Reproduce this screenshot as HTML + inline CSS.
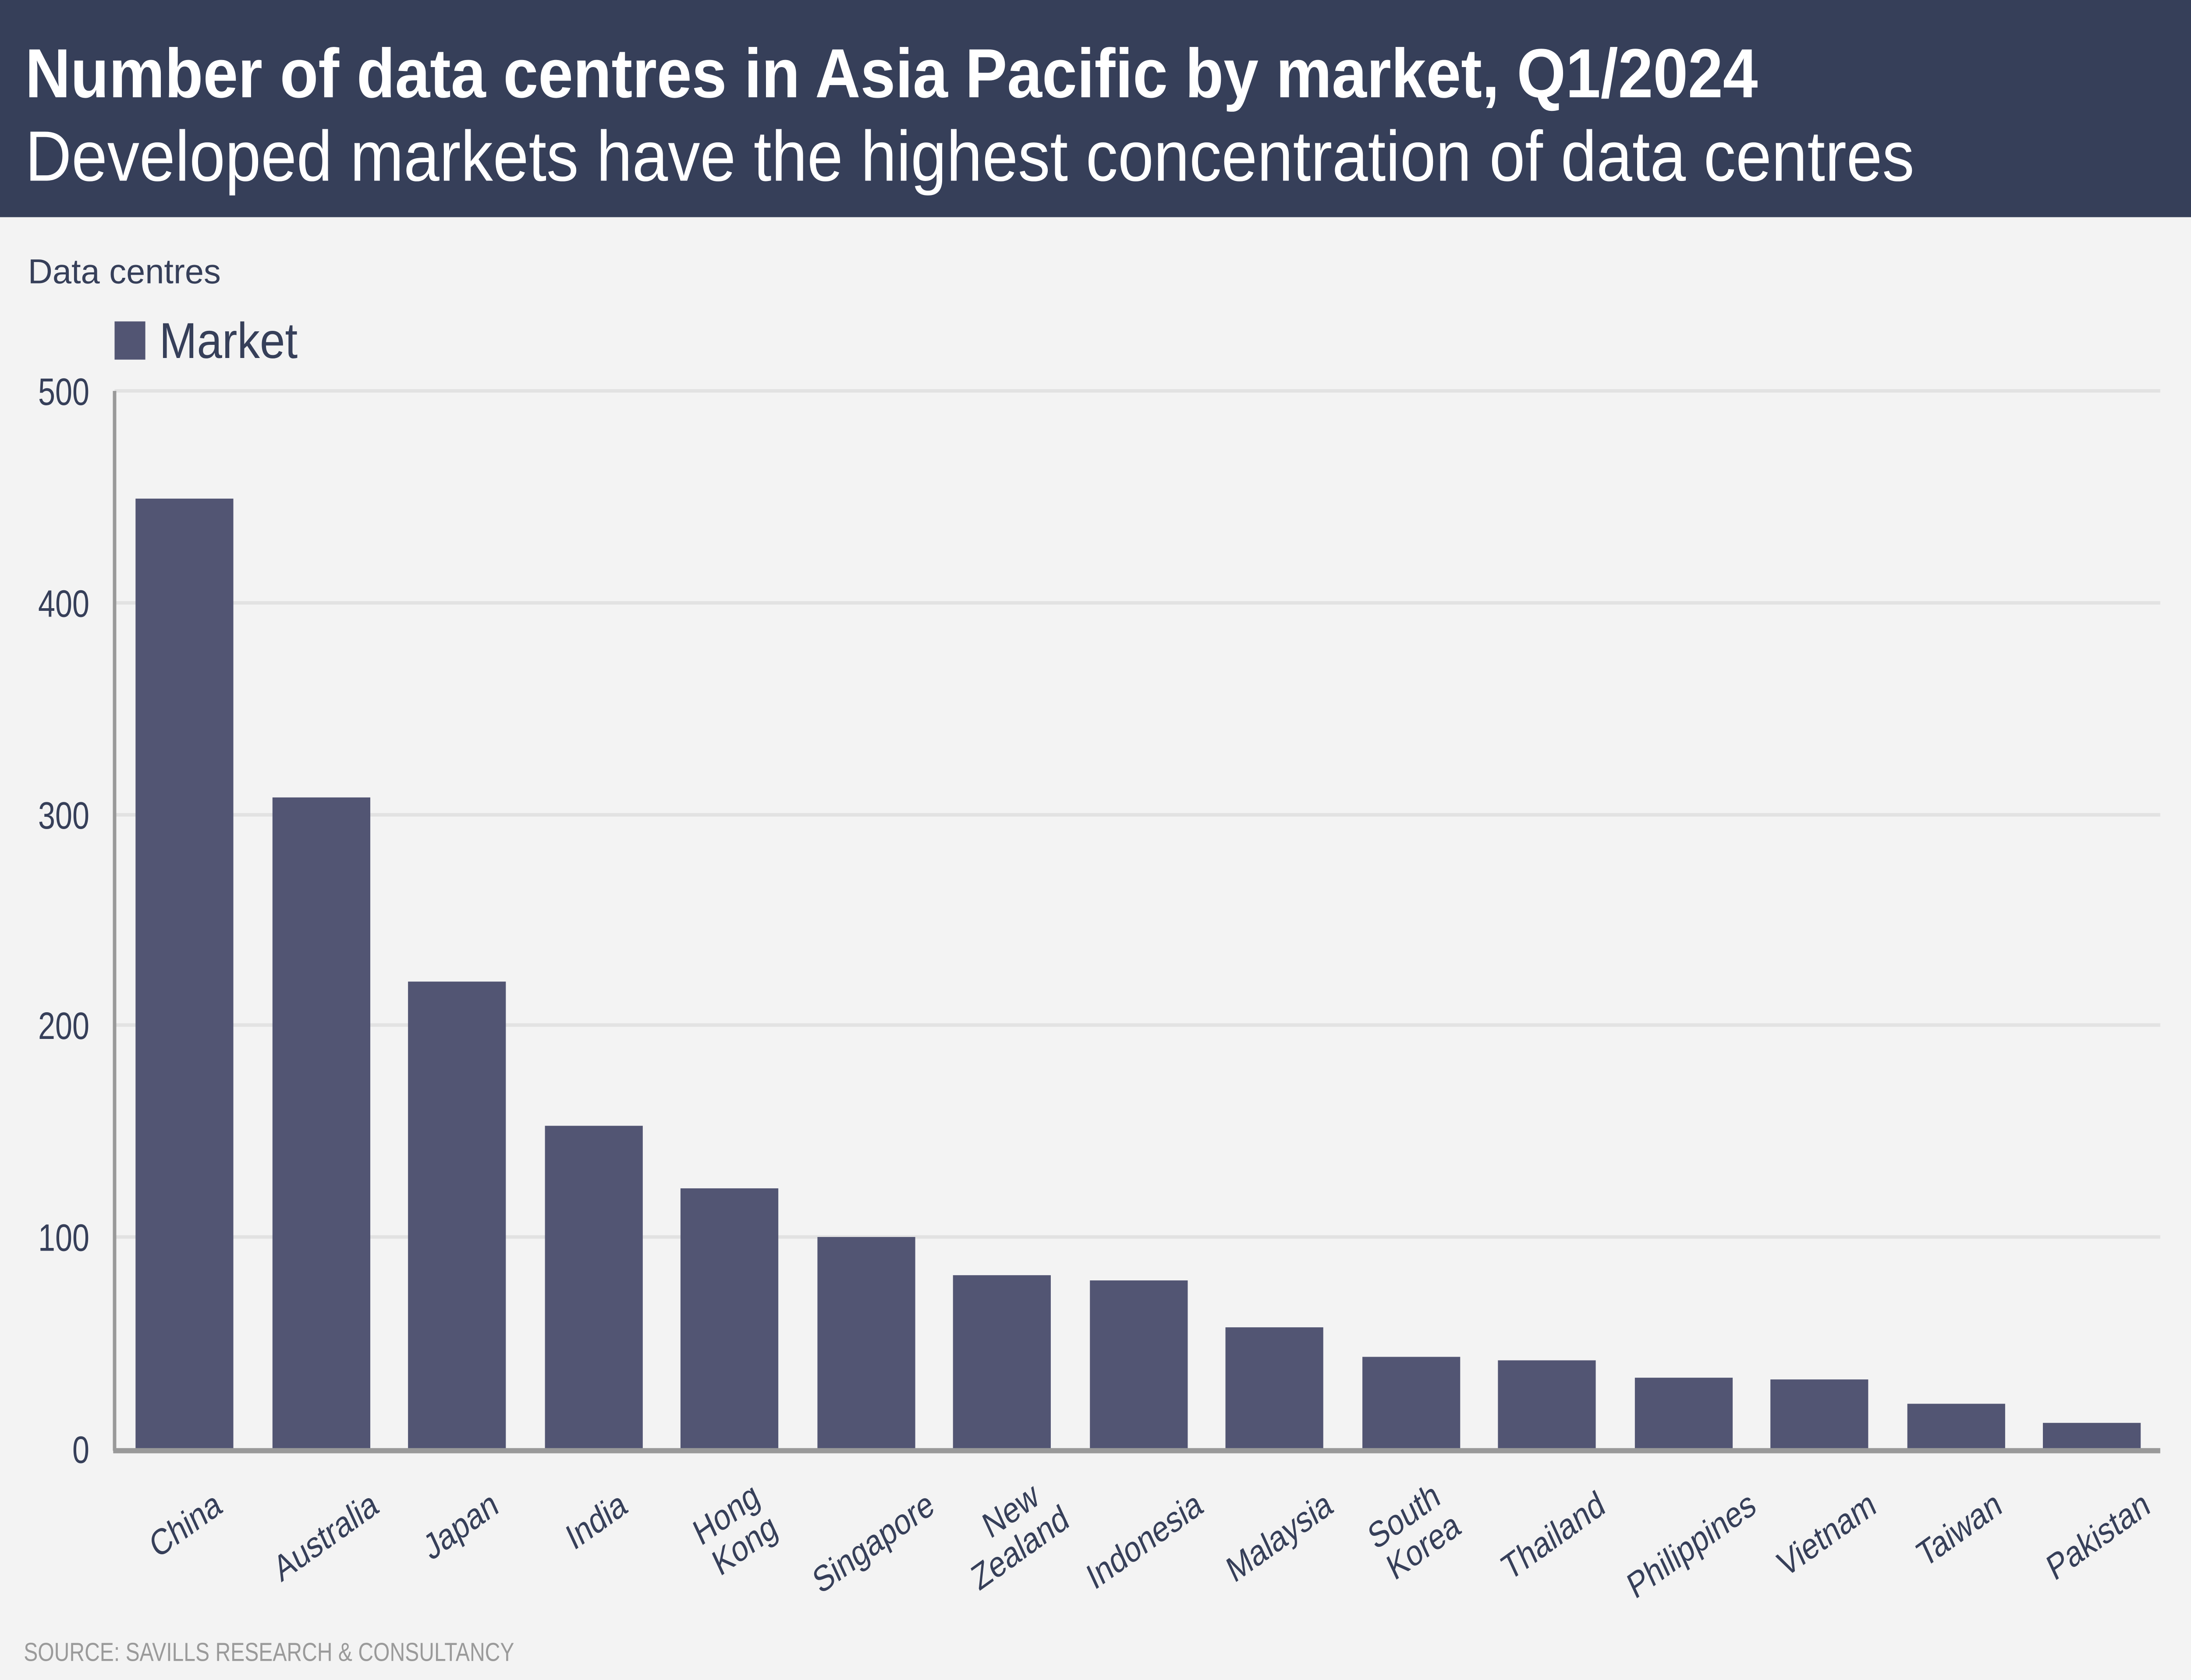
<!DOCTYPE html>
<html><head><style>html,body{margin:0;padding:0;background:#f3f3f3;width:100%;height:100%;overflow:hidden;}svg{display:block;width:100vw;height:100vh;}</style></head>
<body>
<svg viewBox="0 0 1568 967" preserveAspectRatio="none" xmlns="http://www.w3.org/2000/svg" font-family="Liberation Sans, sans-serif">
<rect width="1568" height="967" fill="#f3f3f3"/>
<rect width="1568" height="125" fill="#363f59"/>
<text x="18" y="56" font-size="40" font-weight="bold" fill="#fff" textLength="1240" lengthAdjust="spacingAndGlyphs">Number of data centres in Asia Pacific by market, Q1/2024</text>
<text x="18" y="104" font-size="41" fill="#fff" textLength="1352" lengthAdjust="spacingAndGlyphs">Developed markets have the highest concentration of data centres</text>
<text x="20" y="163" font-size="20" fill="#363f59" textLength="138" lengthAdjust="spacingAndGlyphs">Data centres</text>
<rect x="82" y="185" width="22" height="22" fill="#525573"/>
<text x="114" y="206" font-size="29" fill="#363f59" textLength="99" lengthAdjust="spacingAndGlyphs">Market</text>
<g stroke="#e2e2e2" stroke-width="2">
<line x1="82" x2="1546" y1="225" y2="225"/><line x1="82" x2="1546" y1="347" y2="347"/><line x1="82" x2="1546" y1="469" y2="469"/><line x1="82" x2="1546" y1="590" y2="590"/><line x1="82" x2="1546" y1="712" y2="712"/>
</g>
<g font-size="22" fill="#363f59" text-anchor="end">
<text x="64" y="233">500</text><text x="64" y="355">400</text><text x="64" y="477">300</text><text x="64" y="598">200</text><text x="64" y="720">100</text><text x="64" y="842">0</text>
</g>
<g fill="#525573">
<rect x="97" y="287" width="70" height="547"/>
<rect x="195" y="459" width="70" height="375"/>
<rect x="292" y="565" width="70" height="269"/>
<rect x="390" y="648" width="70" height="186"/>
<rect x="487" y="684" width="70" height="150"/>
<rect x="585" y="712" width="70" height="122"/>
<rect x="682" y="734" width="70" height="100"/>
<rect x="780" y="737" width="70" height="97"/>
<rect x="877" y="764" width="70" height="70"/>
<rect x="975" y="781" width="70" height="53"/>
<rect x="1072" y="783" width="70" height="51"/>
<rect x="1170" y="793" width="70" height="41"/>
<rect x="1267" y="794" width="70" height="40"/>
<rect x="1365" y="808" width="70" height="26"/>
<rect x="1462" y="819" width="70" height="15"/>
</g>
<line x1="82" y1="225" x2="82" y2="835" stroke="#999" stroke-width="2.5"/>
<line x1="81" y1="835" x2="1546" y2="835" stroke="#999" stroke-width="3"/>
<g font-size="21" fill="#363f59" text-anchor="end">
<text transform="translate(160,870) rotate(-30)">China</text>
<text transform="translate(272,870) rotate(-30)">Australia</text>
<text transform="translate(358,870) rotate(-30)">Japan</text>
<text transform="translate(450,870) rotate(-30)">India</text>
<g transform="translate(545,865) rotate(-30)"><text>Hong</text><text x="2" y="22">Kong</text></g>
<text transform="translate(670,870) rotate(-30)">Singapore</text>
<g transform="translate(745,865) rotate(-30)"><text>New</text><text x="12" y="22">Zealand</text></g>
<text transform="translate(862,870) rotate(-30)">Indonesia</text>
<text transform="translate(955,870) rotate(-30)">Malaysia</text>
<g transform="translate(1032,865) rotate(-30)"><text>South</text><text x="4" y="22">Korea</text></g>
<text transform="translate(1150,870) rotate(-30)">Thailand</text>
<text transform="translate(1258,870) rotate(-30)">Philippines</text>
<text transform="translate(1344,870) rotate(-30)">Vietnam</text>
<text transform="translate(1434,870) rotate(-30)">Taiwan</text>
<text transform="translate(1540,870) rotate(-30)">Pakistan</text>
</g>
<text x="17" y="956" font-size="15" fill="#9a9a9a" textLength="351" lengthAdjust="spacingAndGlyphs">SOURCE: SAVILLS RESEARCH &amp; CONSULTANCY</text>
</svg>
</body></html>
